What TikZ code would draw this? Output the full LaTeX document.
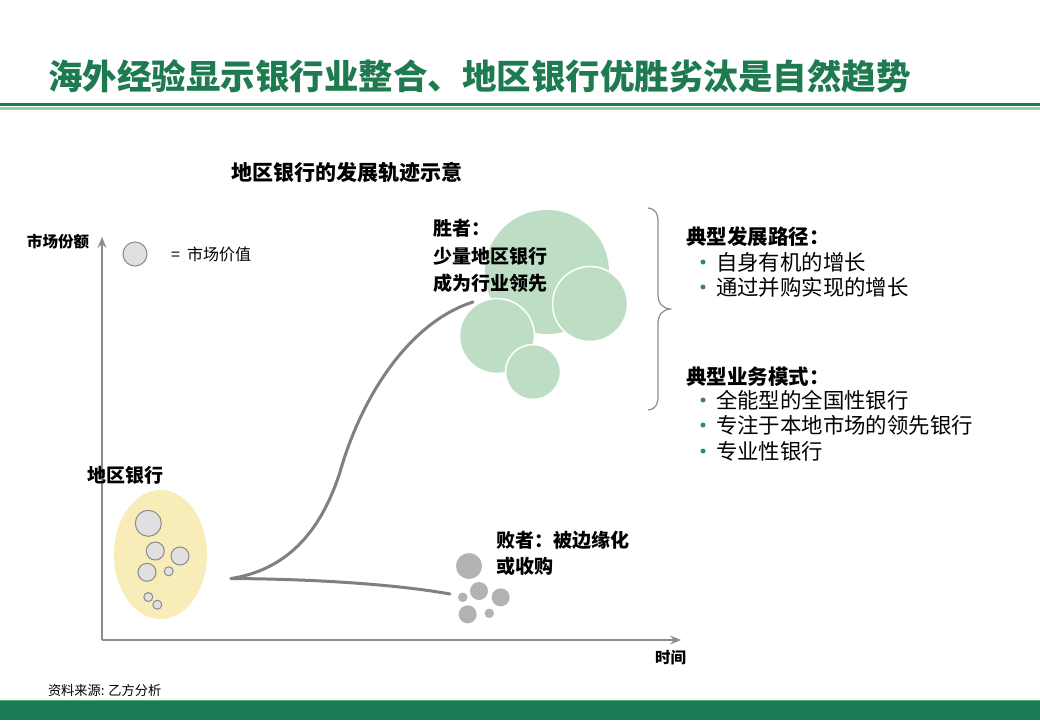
\documentclass[tikz,border=0pt]{standalone}
\usepackage{fontspec}
\newfontfamily\cjk{Noto Sans CJK SC}
\newfontfamily\cjkheavy{Noto Sans CJK SC Black}
\usetikzlibrary{arrows.meta}
\definecolor{titlegreen}{HTML}{1E7B50}
\definecolor{lightline}{HTML}{97CDA8}
\definecolor{barfill}{HTML}{1A7B57}
\definecolor{barline}{HTML}{4DB27A}
\definecolor{wincircle}{HTML}{BDDEC4}
\definecolor{regionfill}{HTML}{F8EDB8}
\definecolor{bankfill}{HTML}{E0E0E0}
\definecolor{bankline}{HTML}{8A8A8A}
\definecolor{losefill}{HTML}{B2B2B2}
\definecolor{bulletgreen}{HTML}{2E8B66}
\definecolor{curvegray}{HTML}{808080}
\definecolor{axisgray}{HTML}{8C8C8C}
\begin{document}
\begin{tikzpicture}[x=1pt,y=-1pt,
  every node/.style={font=\cjk, inner sep=0pt, outer sep=0pt},
  titletext/.style={font=\cjkheavy\fontsize{34.5}{40}\selectfont, text=titlegreen, anchor=west},
  boldlabel/.style={font=\cjk\bfseries\fontsize{19}{22}\selectfont, anchor=west},
  smallbold/.style={font=\cjk\bfseries\fontsize{15.5}{18}\selectfont, anchor=west},
  heading/.style={font=\cjk\bfseries\fontsize{20.5}{24}\selectfont, anchor=west},
  bullettext/.style={font=\cjk\fontsize{21.4}{24}\selectfont, anchor=west},
  bulletdot/.style={circle, fill=bulletgreen, minimum size=5pt},
  axis/.style={draw=axisgray, line width=1.5pt, -{Stealth[length=11pt,width=9pt,inset=4pt]}},
  trend/.style={draw=curvegray, line width=3pt, line cap=round},
  bank/.style={circle, fill=bankfill, draw=bankline, line width=1pt},
  winner/.style={circle, fill=wincircle, draw=white, line width=1.5pt},
  loser/.style={circle, fill=losefill},
]
\useasboundingbox (0,0) rectangle (1040,720);
\fill[white] (0,0) rectangle (1040,720);

% title
\node[titletext] (title) at (48,76) {海外经验显示银行业整合、地区银行优胜劣汰是自然趋势};
\draw[titlegreen, line width=3pt] (0,104) -- (1040,104);
\draw[lightline, line width=3pt] (0,108.5) -- (1040,108.5);

% bottom bar
\fill[barfill] (0,701) rectangle (1040,720);
\draw[barline, line width=1.5pt] (0,700.5) -- (1040,700.5);
\node[font=\cjk\fontsize{13.2}{15}\selectfont, anchor=west] (source) at (48,690) {资料来源: 乙方分析};

% subtitle
\node[font=\cjk\bfseries\fontsize{21}{24}\selectfont] (subtitle) at (347,172) {地区银行的发展轨迹示意};

% axes
\coordinate (origin) at (102,640);
\coordinate (ytop) at (102,237);
\coordinate (xend) at (681,640);
\draw[axis] (origin) -- (ytop);
\draw[axis] (origin) -- (xend);
\node[smallbold] (ylabel) at (27,242) {市场份额};
\node[smallbold] (xlabel) at (655,658) {时间};

% legend
\node[bank, minimum size=24pt] (legend) at (135,254) {};
\node[font=\cjk\fontsize{16}{18}\selectfont, anchor=west] (legendtext) at (171,254) {=\ \ 市场价值};

% regional banks
\node[boldlabel] (regionlabel) at (87,475) {地区银行};
\fill[regionfill] (160.5,554.5) ellipse [x radius=46.5, y radius=64.5];
\node[bank, minimum size=26pt] (b1) at (148.3,523.3) {};
\node[bank, minimum size=18pt] (b2) at (155.3,551) {};
\node[bank, minimum size=18pt] (b3) at (180,556) {};
\node[bank, minimum size=18pt] (b4) at (147,572.3) {};
\node[bank, minimum size=9pt] (b5) at (168.7,571.3) {};
\node[bank, minimum size=9pt] (b6) at (148.3,597) {};
\node[bank, minimum size=9pt] (b7) at (157.3,604.7) {};

% trajectories
\coordinate (start) at (231,578.5);
\coordinate (mid) at (340,472);
\coordinate (winend) at (473,302);
\coordinate (loseend) at (450,594);
\draw[trend] (start) .. controls (292,569) and (323,525) .. (mid)
  .. controls (362,395) and (410,322) .. (winend);
\draw[trend] (start) .. controls (320,579) and (400,585) .. (loseend);

% winners
\node[circle, fill=wincircle, minimum size=124pt] (w1) at (547,272) {};
\node[winner, minimum size=75pt] (w2) at (590,304) {};
\node[winner, minimum size=75pt] (w3) at (497,336) {};
\node[winner, minimum size=55pt] (w4) at (533,372) {};
\node[boldlabel] (win1) at (433,228) {胜者：};
\node[boldlabel] (win2) at (433,256) {少量地区银行};
\node[boldlabel] (win3) at (433,283) {成为行业领先};

% losers
\node[loser, minimum size=26pt] (l1) at (469,566) {};
\node[loser, minimum size=18pt] (l2) at (479,591) {};
\node[loser, minimum size=18pt] (l3) at (500.7,597.3) {};
\node[loser, minimum size=9.5pt] (l4) at (462.7,597.3) {};
\node[loser, minimum size=18pt] (l5) at (467.7,614.3) {};
\node[loser, minimum size=9.5pt] (l6) at (489.3,613.3) {};
\node[boldlabel] (lose1) at (496,540) {败者：被边缘化};
\node[boldlabel] (lose2) at (496,566) {或收购};

% brace
\coordinate (btop) at (648,208);
\coordinate (btip) at (670,309);
\coordinate (bbot) at (648,410);
\draw[axisgray, line width=1.2pt] (btop) .. controls (656,209) and (658,214) .. (658,222)
  -- (658,294) .. controls (658,303) and (662,308) .. (btip)
  .. controls (662,310) and (658,315) .. (658,324)
  -- (658,396) .. controls (658,404) and (656,409) .. (bbot);

% right text
\node[heading] (h1) at (686,237) {典型发展路径：};
\node[bulletdot] (d1) at (703,262) {};
\node[bullettext] (t1) at (716,262) {自身有机的增长};
\node[bulletdot] (d2) at (703,287) {};
\node[bullettext] (t2) at (716,287) {通过并购实现的增长};
\node[heading] (h2) at (686,377) {典型业务模式：};
\node[bulletdot] (d3) at (703,400) {};
\node[bullettext] (t3) at (716,400) {全能型的全国性银行};
\node[bulletdot] (d4) at (703,425) {};
\node[bullettext] (t4) at (716,425) {专注于本地市场的领先银行};
\node[bulletdot] (d5) at (703,451) {};
\node[bullettext] (t5) at (716,451) {专业性银行};
\end{tikzpicture}
\end{document}
